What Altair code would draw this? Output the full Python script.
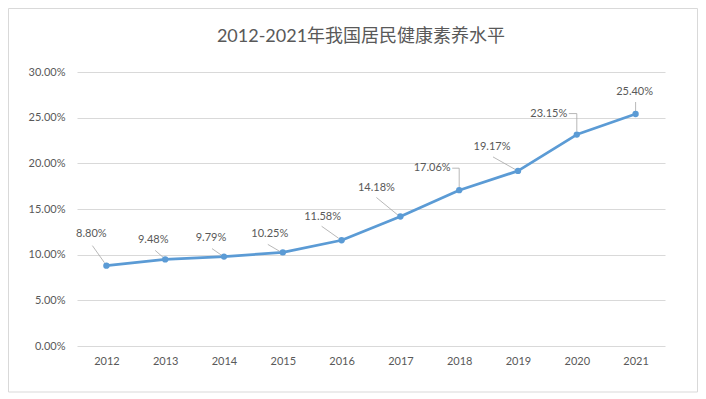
import altair as alt
import pandas as pd

TITLE = "2012-2021年我国居民健康素养水平"
years = [2012, 2013, 2014, 2015, 2016, 2017, 2018, 2019, 2020, 2021]
values = [8.80, 9.48, 9.79, 10.25, 11.58, 14.18, 17.06, 19.17, 23.15, 25.40]
labels = ["8.80%", "9.48%", "9.79%", "10.25%", "11.58%", "14.18%", "17.06%", "19.17%", "23.15%", "25.40%"]
y_ticks = [0, 5, 10, 15, 20, 25, 30]

# ---- layout (pixels) ----
W, H = 588, 274
PAD = {"left": 69, "top": 64, "right": 33, "bottom": 47}
X_DOMAIN = [2011.5, 2021.5]
Y_DOMAIN = [0, 30]
PX_YEAR = W / (X_DOMAIN[1] - X_DOMAIN[0])
PX_PCT = H / (Y_DOMAIN[1] - Y_DOMAIN[0])

# data-label placement, pixel offsets of label centre from each point
label_dx = [-15, -12, -13, -13, -19, -24, -27, -26, -28, -1]
label_dy = [-32, -19, -19, -18, -23, -28, -22, -24, -21, -22]
# leader line polylines, pixel offsets from each point
leader_paths = [
    [(-14, -20), (-2, -3)],
    [(-10, -9), (-2, -2)],
    [(-12, -8), (-2, -1)],
    [(-15, -8), (-3, -1)],
    [(-20, -14), (-3, -2)],
    [(-24, -19), (-2, -1)],
    [(-7, -22), (0, -22), (0, -3)],
    [(-25, -14), (-2, -1)],
    [(-8, -21), (0, -21), (0, -3)],
    [(0, -12), (0, -3)],
]

TEXT = "#595959"
GRID = "#d9d9d9"
LINE = "#5b9bd5"
LEAD = "#a6a6a6"
FONT = "Lato, 'Noto Sans CJK SC', sans-serif"

df = pd.DataFrame({"year": years, "value": values, "label": labels})
df["lx"] = [y + dx / PX_YEAR for y, dx in zip(years, label_dx)]
df["ly"] = [v - dy / PX_PCT for v, dy in zip(values, label_dy)]

segs = []
for y, v, path in zip(years, values, leader_paths):
    for (ax, ay), (bx, by) in zip(path[:-1], path[1:]):
        segs.append({
            "x": y + ax / PX_YEAR, "y": v - ay / PX_PCT,
            "x2": y + bx / PX_YEAR, "y2": v - by / PX_PCT,
        })
seg_df = pd.DataFrame(segs)

xscale = alt.Scale(domain=X_DOMAIN, nice=False, zero=False)
yscale = alt.Scale(domain=Y_DOMAIN, nice=False)

x_axis = alt.Axis(values=years, format="d", grid=False, domain=False, ticks=False,
                  labelPadding=9, labelFontSize=11, labelColor=TEXT, labelFont=FONT, title=None)
y_axis = alt.Axis(values=y_ticks, labelExpr="format(datum.value, '.2f') + '%'",
                  grid=True, gridColor=GRID, gridWidth=1, domain=False, ticks=False,
                  labelPadding=12, labelFontSize=11, labelColor=TEXT, labelFont=FONT, title=None)

base = alt.Chart(df)

border = alt.Chart(pd.DataFrame({"a": [0]})).mark_rect(
    fillOpacity=0, stroke=GRID, strokeWidth=1
).encode(
    x=alt.value(-PAD["left"] + 0.5), x2=alt.value(W + PAD["right"] - 0.5),
    y=alt.value(-PAD["top"] + 0.5), y2=alt.value(H + PAD["bottom"] - 1),
)

title = alt.Chart(pd.DataFrame({"t": [TITLE]})).mark_text(
    font=FONT, fontSize=18, color=TEXT, align="center", baseline="middle"
).encode(
    x=alt.value(361 - 8 - PAD["left"]), y=alt.value(37 - 8 - PAD["top"]), text="t:N"
)

line = base.mark_line(color=LINE, strokeWidth=2.75, strokeCap="round", strokeJoin="round").encode(
    x=alt.X("year:Q", scale=xscale, axis=x_axis),
    y=alt.Y("value:Q", scale=yscale, axis=y_axis),
)
points = base.mark_circle(color=LINE, size=40, opacity=1).encode(
    x=alt.X("year:Q", scale=xscale),
    y=alt.Y("value:Q", scale=yscale),
)
leaders = alt.Chart(seg_df).mark_rule(color=LEAD, strokeWidth=0.8).encode(
    x=alt.X("x:Q", scale=xscale), y=alt.Y("y:Q", scale=yscale),
    x2="x2:Q", y2="y2:Q",
)
text = base.mark_text(font=FONT, fontSize=11, color=TEXT, align="center", baseline="middle").encode(
    x=alt.X("lx:Q", scale=xscale), y=alt.Y("ly:Q", scale=yscale), text="label:N"
)

chart = alt.layer(border, title, line, leaders, points, text).properties(
    width=W, height=H, padding=PAD, autosize="none", background="white"
).configure_view(stroke=None)

chart.save("out.html", embed_options={"renderer": "svg", "actions": False})
